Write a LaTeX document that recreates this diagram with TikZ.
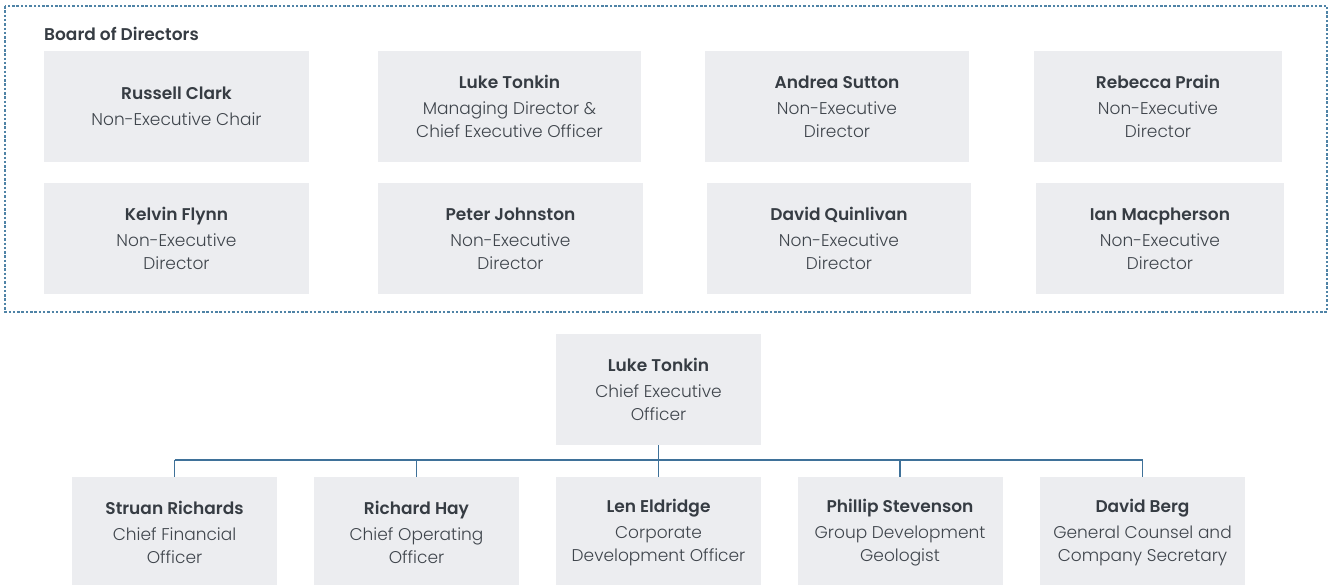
\documentclass[tikz,border=0pt]{standalone}
\usepackage{fontspec}
\setmainfont{Poppins Light}
\newfontface\namefont{Poppins SemiBold}
\usetikzlibrary{calc}
\definecolor{boxfill}{HTML}{ECEDF0}
\definecolor{inktext}{HTML}{363C43}
\definecolor{subtext}{HTML}{3F454C}
\definecolor{linkblue}{HTML}{3F7199}
\definecolor{frameblue}{HTML}{4F83A6}
% bold name on the first line, role below
\newcommand{\who}[2]{{\namefont\color{inktext}#1}\\[3pt]#2}
\begin{document}
\begin{tikzpicture}[x=1pt,y=-1pt,
  person/.style={fill=boxfill, draw=none, inner sep=0pt, minimum height=111pt,
    align=center, text=subtext, font=\fontsize{17}{23}\selectfont},
  conn/.style={draw=linkblue, line width=1.8pt},
  frame/.style={draw=frameblue, line width=1.2pt, dash pattern=on 2.5pt off 1.8pt}]
\useasboundingbox (0,0) rectangle (1329,584);
\clip (0,0) rectangle (1329,584);

% board frame and heading
\draw[frame] (5,6) rectangle (1327,312);
\node[anchor=west, inner sep=0pt, text=inktext, font=\namefont\fontsize{17}{20}\selectfont] (boardlbl) at (44,34) {Board of Directors};

% board members, first row
\node[person, minimum width=265pt] (rc) at (176.5,106.5) {\who{Russell Clark}{Non-Executive Chair}};
\node[person, minimum width=263pt] (lt) at (509.5,106.5) {\who{Luke Tonkin}{Managing Director \&\\Chief Executive Officer}};
\node[person, minimum width=264pt] (as) at (837,106.5) {\who{Andrea Sutton}{Non-Executive\\Director}};
\node[person, minimum width=248pt] (rp) at (1158,106.5) {\who{Rebecca Prain}{Non-Executive\\Director}};

% board members, second row
\node[person, minimum width=265pt] (kf) at (176.5,238.5) {\who{Kelvin Flynn}{Non-Executive\\Director}};
\node[person, minimum width=265pt] (pj) at (510.5,238.5) {\who{Peter Johnston}{Non-Executive\\Director}};
\node[person, minimum width=264pt] (dq) at (839,238.5) {\who{David Quinlivan}{Non-Executive\\Director}};
\node[person, minimum width=248pt] (im) at (1160,238.5) {\who{Ian Macpherson}{Non-Executive\\Director}};

% executive team
\node[person, minimum width=205pt] (ceo) at (658.5,389.5) {\who{Luke Tonkin}{Chief Executive\\Officer}};
\node[person, minimum width=205pt] (cfo) at (174.5,532.5) {\who{Struan Richards}{Chief Financial\\Officer}};
\node[person, minimum width=205pt] (coo) at (416.5,532.5) {\who{Richard Hay}{Chief Operating\\Officer}};
\node[person, minimum width=205pt] (cdo) at (658.5,532.5) {\who{Len Eldridge}{Corporate\\Development Officer}};
\node[person, minimum width=205pt] (gdg) at (900,532.5) {\who{Phillip Stevenson}{Group Development\\Geologist}};
\node[person, minimum width=205pt] (gc) at (1142.5,532.5) {\who{David Berg}{General Counsel and\\Company Secretary}};

% reporting lines
\coordinate (bus) at (0,460);
\draw[conn] (ceo.south) -- (ceo.south |- bus);
\draw[conn] (cfo.north |- bus) -- (gc.north |- bus);
\foreach \n in {cfo,coo,cdo,gdg,gc}
  \draw[conn] (\n.north) -- (\n.north |- bus);
\end{tikzpicture}
\end{document}
